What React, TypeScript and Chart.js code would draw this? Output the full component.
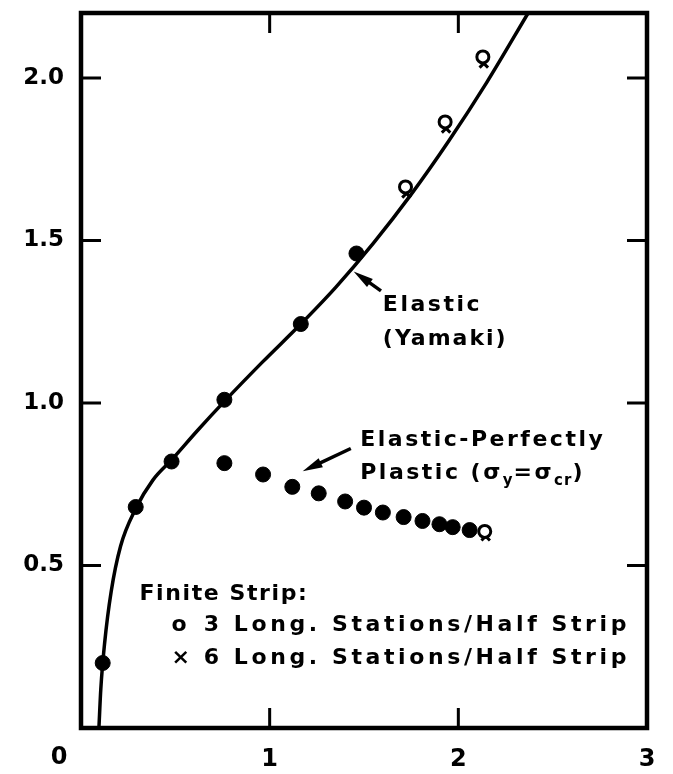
import { useEffect, useRef } from 'react';
import { Chart, registerables } from 'chart.js';

Chart.register(...registerables);

// ---- axis ticks ----
const xTickValues = [0, 1, 2, 3];
const yTickValues = [0, 0.5, 1.0, 1.5, 2.0];
const xTickLabels = ['', '1', '2', '3'];
const yTickLabels = ['', '0.5', '1.0', '1.5', '2.0'];
const originLabel = '0';

// ---- Elastic (Yamaki) curve ----
const curveX = [0.095, 0.105, 0.125, 0.16, 0.21, 0.29, 0.38, 0.48, 0.62, 0.76, 0.96, 1.165, 1.35, 1.55, 1.75, 1.95, 2.15, 2.37];
const curveY = [0.0, 0.12, 0.26, 0.42, 0.56, 0.675, 0.762, 0.825, 0.917, 1.005, 1.125, 1.243, 1.356, 1.492, 1.642, 1.807, 1.986, 2.2];

// ---- Finite strip, elastic branch (filled) ----
const elasticX = [0.115, 0.29, 0.48, 0.76, 1.165, 1.46];
const elasticY = [0.2, 0.68, 0.82, 1.01, 1.243, 1.46];

// ---- Finite strip, elastic-perfectly plastic branch (filled) ----
const plasticX = [0.76, 0.965, 1.12, 1.26, 1.40, 1.50, 1.60, 1.71, 1.81, 1.90, 1.97, 2.06];
const plasticY = [0.815, 0.78, 0.742, 0.722, 0.697, 0.678, 0.663, 0.649, 0.637, 0.627, 0.618, 0.609];

// ---- 3 Long. Stations/Half Strip (open circles) ----
const strip3X = [1.72, 1.93, 2.13, 2.14];
const strip3Y = [1.665, 1.865, 2.065, 0.605];

// ---- 6 Long. Stations/Half Strip (crosses) ----
const strip6X = [1.725, 1.935, 2.135, 2.145];
const strip6Y = [1.645, 1.845, 2.045, 0.59];

// ---- annotation texts (value coordinates) ----
const textElastic = { x: 1.6, y: 1.3, ls: 2.5, parts: [{ t: 'Elastic' }] };
const textYamaki = { x: 1.6, y: 1.195, ls: 2, parts: [{ t: '(Yamaki)' }] };
const textEPP1 = { x: 1.48, y: 0.885, ls: 2.5, parts: [{ t: 'Elastic-Perfectly' }] };
const textEPP2 = {
  x: 1.48,
  y: 0.785,
  ls: 2.5,
  parts: [{ t: 'Plastic (σ' }, { t: 'y', sub: true }, { t: '=σ' }, { t: 'cr', sub: true }, { t: ')' }],
};
const textFinite = { x: 0.31, y: 0.41, ls: 1.6, parts: [{ t: 'Finite Strip:' }] };
const textSym3 = { x: 0.48, y: 0.315, ls: 0, parts: [{ t: 'o' }] };
const textLeg3 = { x: 0.65, y: 0.315, ls: 3.6, parts: [{ t: '3 Long. Stations/Half Strip' }] };
const textSym6 = { x: 0.48, y: 0.215, ls: 0, parts: [{ t: '×' }] };
const textLeg6 = { x: 0.65, y: 0.215, ls: 3.6, parts: [{ t: '6 Long. Stations/Half Strip' }] };
const annotationTexts = [textElastic, textYamaki, textEPP1, textEPP2, textFinite, textSym3, textLeg3, textSym6, textLeg6];

// ---- arrows (value coordinates: tail -> tip) ----
const arrowElastic = { from: [1.59, 1.345], to: [1.445, 1.405] };
const arrowPlastic = { from: [1.43, 0.86], to: [1.175, 0.79] };
const arrows = [arrowElastic, arrowPlastic];

const FONT = '"DejaVu Sans", sans-serif';

function toPoints(xs: number[], ys: number[]) {
  return xs.map((x, i) => ({ x, y: ys[i] }));
}

const decorPlugin = {
  id: 'decor',
  afterDraw(chart: any) {
    const { ctx, chartArea } = chart;
    const xs = chart.scales.x;
    const ys = chart.scales.y;
    ctx.save();
    ctx.strokeStyle = '#000';
    ctx.fillStyle = '#000';

    // frame
    ctx.lineWidth = 4.5;
    ctx.strokeRect(chartArea.left, chartArea.top, chartArea.right - chartArea.left, chartArea.bottom - chartArea.top);

    // inward ticks
    const tl = 20;
    ctx.lineWidth = 3;
    ctx.beginPath();
    yTickValues.forEach((v) => {
      if (v <= ys.min || v >= ys.max) return;
      const py = ys.getPixelForValue(v);
      ctx.moveTo(chartArea.left, py);
      ctx.lineTo(chartArea.left + tl, py);
      ctx.moveTo(chartArea.right, py);
      ctx.lineTo(chartArea.right - tl, py);
    });
    xTickValues.forEach((v) => {
      if (v <= xs.min || v >= xs.max) return;
      const px = xs.getPixelForValue(v);
      ctx.moveTo(px, chartArea.bottom);
      ctx.lineTo(px, chartArea.bottom - tl);
      ctx.moveTo(px, chartArea.top);
      ctx.lineTo(px, chartArea.top + tl);
    });
    ctx.stroke();

    // origin label
    ctx.font = 'bold 24px ' + FONT;
    ctx.textAlign = 'center';
    ctx.textBaseline = 'middle';
    ctx.fillText(originLabel, xs.getPixelForValue(0) - 22, chartArea.bottom + 30);

    // annotation texts
    ctx.textAlign = 'left';
    ctx.textBaseline = 'middle';
    annotationTexts.forEach((a: any) => {
      let px = xs.getPixelForValue(a.x);
      const py = ys.getPixelForValue(a.y);
      a.parts.forEach((p: any) => {
        if (p.sub) {
          ctx.font = 'bold 15px ' + FONT;
          (ctx as any).letterSpacing = '1px';
          ctx.fillText(p.t, px, py + 8);
        } else {
          ctx.font = 'bold 22px ' + FONT;
          (ctx as any).letterSpacing = a.ls + 'px';
          ctx.fillText(p.t, px, py);
        }
        px += ctx.measureText(p.t).width;
      });
    });
    (ctx as any).letterSpacing = '0px';

    // arrows
    arrows.forEach((a) => {
      const x0 = xs.getPixelForValue(a.from[0]);
      const y0 = ys.getPixelForValue(a.from[1]);
      const x1 = xs.getPixelForValue(a.to[0]);
      const y1 = ys.getPixelForValue(a.to[1]);
      const ang = Math.atan2(y1 - y0, x1 - x0);
      const hl = 20;
      const hw = 5;
      ctx.lineWidth = 3.5;
      ctx.beginPath();
      ctx.moveTo(x0, y0);
      ctx.lineTo(x1 - Math.cos(ang) * hl * 0.8, y1 - Math.sin(ang) * hl * 0.8);
      ctx.stroke();
      ctx.beginPath();
      ctx.moveTo(x1, y1);
      ctx.lineTo(x1 - Math.cos(ang) * hl - Math.sin(ang) * hw, y1 - Math.sin(ang) * hl + Math.cos(ang) * hw);
      ctx.lineTo(x1 - Math.cos(ang) * hl + Math.sin(ang) * hw, y1 - Math.sin(ang) * hl - Math.cos(ang) * hw);
      ctx.closePath();
      ctx.fill();
    });
    ctx.restore();
  },
};

export default function App() {
  const canvasRef = useRef<HTMLCanvasElement | null>(null);

  useEffect(() => {
    if (!canvasRef.current) return;
    const chart = new Chart(canvasRef.current, {
      type: 'scatter',
      data: {
        datasets: [
          {
            label: 'Elastic (Yamaki)',
            data: toPoints(curveX, curveY),
            showLine: true,
            borderColor: '#000',
            borderWidth: 3.5,
            pointRadius: 0,
            cubicInterpolationMode: 'monotone',
            order: 5,
          } as any,
          {
            label: 'Elastic finite strip',
            data: toPoints(elasticX, elasticY),
            pointRadius: 7.5,
            backgroundColor: '#000',
            borderColor: '#000',
            borderWidth: 1,
            order: 4,
          },
          {
            label: 'Elastic-Perfectly Plastic',
            data: toPoints(plasticX, plasticY),
            pointRadius: 7.5,
            backgroundColor: '#000',
            borderColor: '#000',
            borderWidth: 1,
            order: 3,
          },
          {
            label: '3 Long. Stations/Half Strip',
            data: toPoints(strip3X, strip3Y),
            pointStyle: 'circle',
            pointRadius: 6,
            backgroundColor: '#fff',
            borderColor: '#000',
            borderWidth: 3,
            order: 1,
          },
          {
            label: '6 Long. Stations/Half Strip',
            data: toPoints(strip6X, strip6Y),
            pointStyle: 'crossRot',
            pointRadius: 6,
            borderColor: '#000',
            borderWidth: 3,
            order: 2,
          },
        ],
      },
      options: {
        responsive: false,
        animation: false,
        devicePixelRatio: 1,
        layout: { padding: { top: 13, right: 26, left: 0, bottom: 0 } },
        plugins: { legend: { display: false }, tooltip: { enabled: false } },
        scales: {
          x: {
            type: 'linear',
            min: 0,
            max: 3,
            grid: { display: false, drawTicks: false },
            border: { display: false },
            afterFit: (s: any) => {
              s.height = 46;
              s.paddingLeft = 0;
              s.paddingRight = 0;
            },
            afterBuildTicks: (s: any) => {
              s.ticks = xTickValues.map((v) => ({ value: v }));
            },
            ticks: {
              padding: 17,
              color: '#000',
              font: { family: FONT, size: 24, weight: 'bold' },
              callback: (v: any) => {
                const i = xTickValues.indexOf(Number(v));
                return i >= 0 ? xTickLabels[i] : '';
              },
            },
          },
          y: {
            type: 'linear',
            min: 0,
            max: 2.2,
            grid: { display: false, drawTicks: false },
            border: { display: false },
            afterFit: (s: any) => {
              s.width = 81;
              s.paddingTop = 0;
              s.paddingBottom = 0;
            },
            afterBuildTicks: (s: any) => {
              s.ticks = yTickValues.map((v) => ({ value: v }));
            },
            ticks: {
              padding: 17,
              color: '#000',
              font: { family: FONT, size: 23, weight: 'bold' },
              callback: (v: any) => {
                const i = yTickValues.indexOf(Number(v));
                return i >= 0 ? yTickLabels[i] : '';
              },
            },
          },
        },
      },
      plugins: [decorPlugin],
    });
    return () => chart.destroy();
  }, []);

  return (
    <div style={{ position: 'absolute', left: 0, top: 0, width: 673, height: 774, background: '#fff' }}>
      <canvas ref={canvasRef} width={673} height={774} />
    </div>
  );
}
